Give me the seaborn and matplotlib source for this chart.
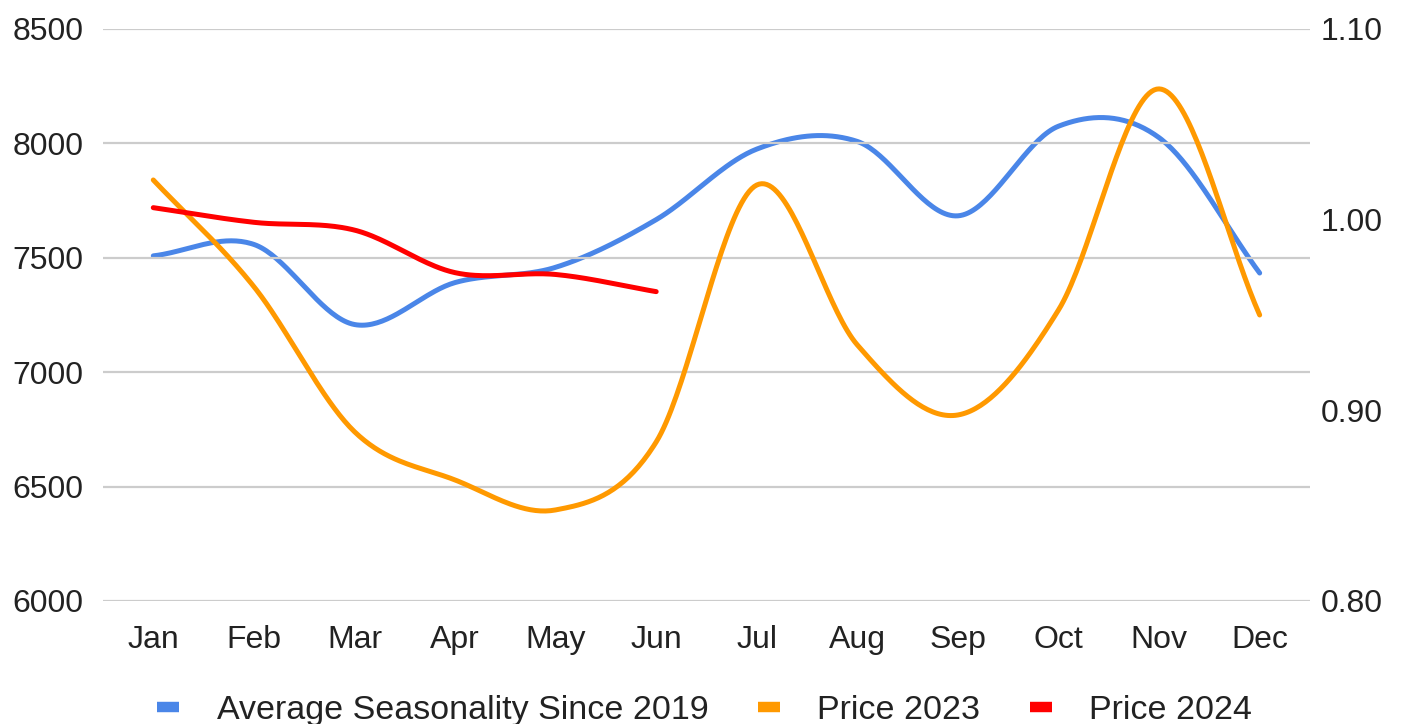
import numpy as np
import pandas as pd
import matplotlib
matplotlib.use("Agg")
import matplotlib.pyplot as plt
from matplotlib.lines import Line2D
import seaborn as sns

months = ["Jan", "Feb", "Mar", "Apr", "May", "Jun", "Jul", "Aug", "Sep", "Oct", "Nov", "Dec"]
seasonality = [0.981, 0.987, 0.945, 0.967, 0.975, 1.000, 1.037, 1.041, 1.002, 1.049, 1.043, 0.972]
price_2023 = [7840, 7374, 6740, 6529, 6398, 6695, 7818, 7119, 6813, 7272, 8238, 7250]
price_2024 = [7719, 7655, 7621, 7435, 7427, 7352]

left_ticks = [6000, 6500, 7000, 7500, 8000, 8500]
right_ticks = [0.80, 0.90, 1.00, 1.10]
right_labels = ["0.80", "0.90", "1.00", "1.10"]

COL_BLUE = "#4a86e8"
COL_ORANGE = "#ff9900"
COL_RED = "#ff0000"


def smooth(values, n=40):
    """Catmull-Rom curve through the data points (rendering only)."""
    y = np.asarray(values, dtype=float)
    x = np.arange(len(y), dtype=float)
    yp = np.concatenate([[2 * y[0] - y[1]], y, [2 * y[-1] - y[-2]]])
    xs, ys = [], []
    for i in range(len(y) - 1):
        p0, p1, p2, p3 = yp[i], yp[i + 1], yp[i + 2], yp[i + 3]
        t = np.linspace(0, 1, n, endpoint=False)
        m1 = 0.5 * (p2 - p0)
        m2 = 0.5 * (p3 - p1)
        h00 = 2 * t**3 - 3 * t**2 + 1
        h10 = t**3 - 2 * t**2 + t
        h01 = -2 * t**3 + 3 * t**2
        h11 = t**3 - t**2
        ys.append(h00 * p1 + h10 * m1 + h01 * p2 + h11 * m2)
        xs.append(x[i] + t)
    xs.append([x[-1]])
    ys.append([y[-1]])
    return np.concatenate(xs), np.concatenate(ys)


sns.set_theme(style="white")
plt.rcParams["font.family"] = ["Liberation Sans", "DejaVu Sans"]

fig = plt.figure(figsize=(14.09, 7.24), dpi=100)
ax = fig.add_axes([0.0731, 0.1699, 0.8566, 0.7901])
ax2 = ax.twinx()

x23, y23 = smooth(price_2023)
x24, y24 = smooth(price_2024)
xs, ys = smooth(seasonality)
df23 = pd.DataFrame({"x": x23, "y": y23})
df24 = pd.DataFrame({"x": x24, "y": y24})
dfs = pd.DataFrame({"x": xs, "y": ys})

sns.lineplot(data=df23, x="x", y="y", ax=ax, color=COL_ORANGE, lw=3.6, zorder=3, sort=False)
sns.lineplot(data=df24, x="x", y="y", ax=ax, color=COL_RED, lw=3.6, zorder=4, sort=False)
sns.lineplot(data=dfs, x="x", y="y", ax=ax2, color=COL_BLUE, lw=3.6, zorder=2, sort=False)

ax.set_zorder(ax2.get_zorder() + 1)
ax.patch.set_visible(False)

ax.set_xlim(-0.5, 11.5)
ax.set_ylim(6000, 8500)
ax2.set_ylim(0.80, 1.10)

ax.set_yticks(left_ticks)
ax.set_yticklabels([str(t) for t in left_ticks])
ax2.set_yticks(right_ticks)
ax2.set_yticklabels(right_labels)
ax.set_xticks(range(len(months)))
ax.set_xticklabels(months)

ax.grid(axis="y", color="#cccccc", lw=1.6)
ax.grid(axis="x", visible=False)
ax2.grid(False)
for a in (ax, ax2):
    for s in a.spines.values():
        s.set_visible(False)
    a.set_xlabel("")
    a.set_ylabel("")

ax.tick_params(axis="y", length=0, pad=14, labelsize=23, labelcolor="#222222")
ax.tick_params(axis="x", length=0, pad=17, labelsize=23, labelcolor="#222222")
ax2.tick_params(axis="y", length=0, pad=8, labelsize=23, labelcolor="#222222")

handles = [
    Line2D([0], [0], color=COL_BLUE, lw=7.5, solid_capstyle="butt"),
    Line2D([0], [0], color=COL_ORANGE, lw=7.5, solid_capstyle="butt"),
    Line2D([0], [0], color=COL_RED, lw=7.5, solid_capstyle="butt"),
]
fig.legend(handles, ["Average Seasonality Since 2019", "Price 2023", "Price 2024"],
           loc="lower center", bbox_to_anchor=(0.5, -0.045), ncol=3, frameon=False,
           fontsize=24.5, handlelength=0.65, handletextpad=1.1, columnspacing=1.45,
           labelcolor="#222222")

fig.savefig("out.png", dpi=100)
